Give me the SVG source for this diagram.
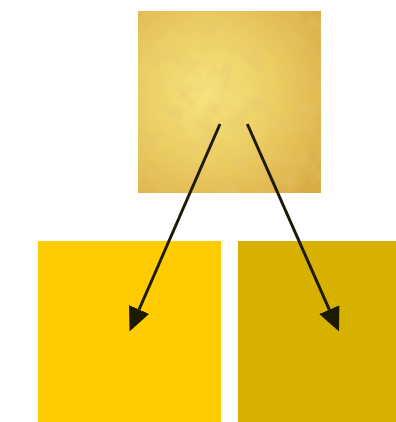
<svg xmlns="http://www.w3.org/2000/svg" width="396" height="422" viewBox="0 0 396 422">
  <defs>
    <radialGradient id="parch" cx="0.38" cy="0.45" r="0.75">
      <stop offset="0" stop-color="#f7e47f"/>
      <stop offset="0.5" stop-color="#ecce62"/>
      <stop offset="1" stop-color="#d9ad45"/>
    </radialGradient>
    <filter id="grain" x="0" y="0" width="1" height="1">
      <feTurbulence type="fractalNoise" baseFrequency="0.06" numOctaves="4" seed="3" result="noise"/>
      <feColorMatrix in="noise" type="matrix" values="0 0 0 0 0.78  0 0 0 0 0.56  0 0 0 0 0.16  1.6 0 0 0 -0.65" result="tint"/>
      <feComposite in="tint" in2="SourceGraphic" operator="in"/>
    </filter>
    <marker id="head" markerUnits="userSpaceOnUse" markerWidth="26" markerHeight="24" refX="0" refY="11" orient="auto">
      <path d="M0,0 L24,11 L0,22 Z" fill="#1c1a00"/>
    </marker>
    <style>
      .conn { stroke: #1c1a00; stroke-width: 3; fill: none; marker-end: url(#head); }
    </style>
  </defs>
  <g id="node-top">
    <rect x="138" y="11" width="183" height="182" fill="url(#parch)"/>
    <rect x="138" y="11" width="183" height="182" fill="#000" filter="url(#grain)" opacity="0.7"/>
  </g>
  <g id="node-left">
    <rect x="38" y="241" width="183" height="181" fill="#fecc00"/>
  </g>
  <g id="node-right">
    <rect x="238" y="241" width="158" height="181" fill="#d8b000"/>
  </g>
  <g id="connectors">
    <line class="conn" x1="220" y1="124" x2="139.1" y2="309.5"/>
    <line class="conn" x1="247.3" y1="124" x2="329.3" y2="309.6"/>
  </g>
</svg>
